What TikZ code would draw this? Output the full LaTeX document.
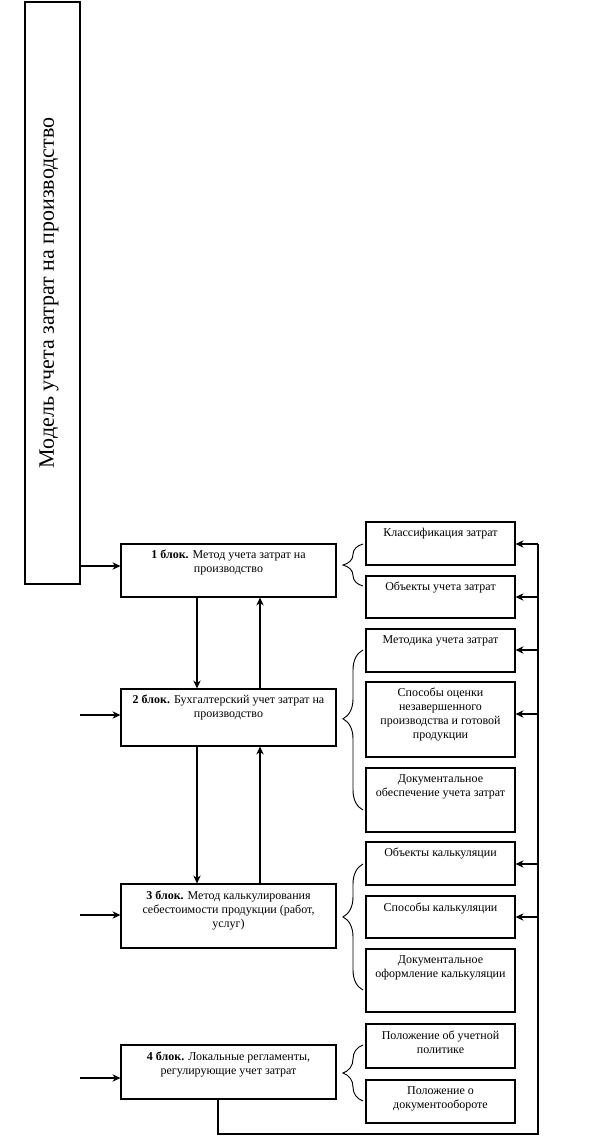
\documentclass[tikz,border=0pt]{standalone}
\usepackage{fontspec}
\setmainfont{Liberation Serif}
\usetikzlibrary{arrows.meta,decorations.pathreplacing}
\begin{document}
\begin{tikzpicture}[x=0.75pt,y=-0.75pt,
  box/.style={draw,line width=0.8pt,inner sep=0pt},
  bw/.style={box,minimum width=161.25pt},
  rw/.style={box,minimum width=111.75pt},
  txt/.style={font=\fontsize{9}{10.5}\selectfont,align=center,inner sep=0pt,anchor=north},
  arr/.style={-{Stealth[length=6pt,width=5.5pt]},line width=0.8pt},
  ln/.style={line width=0.8pt},
  brc/.style={decorate,decoration={brace,amplitude=15pt,aspect=#1},line width=0.7pt}]
\useasboundingbox (0,0) rectangle (601,1141);
% tall box
\node[box,minimum width=41.25pt,minimum height=436.5pt] (t) at (52.5,293) {};
\node[rotate=90,font=\fontsize{16.5}{18}\selectfont,inner sep=0pt] (tt) at ([xshift=-2.5pt]t.center) {Модель учета затрат на производство};
% blocks
\node[bw,minimum height=39.75pt] (b1) at (228.5,570.5) {};
\node[bw,minimum height=42.75pt] (b2) at (228.5,717.5) {};
\node[bw,minimum height=48pt] (b3) at (228.5,916) {};
\node[bw,minimum height=40.5pt] (b4) at (228.5,1072) {};
\node[txt] (b1t) at ([yshift=-5pt]b1.north) {\textbf{1 блок.} Метод учета затрат на\\производство};
\node[txt] (b2t) at ([yshift=-5pt]b2.north) {\textbf{2 блок.} Бухгалтерский учет затрат на\\производство};
\node[txt] (b3t) at ([yshift=-5pt]b3.north) {\textbf{3 блок.} Метод калькулирования\\себестоимости продукции (работ,\\услуг)};
\node[txt] (b4t) at ([yshift=-5pt]b4.north) {\textbf{4 блок.} Локальные регламенты,\\регулирующие учет затрат};
% right boxes
\node[rw,minimum height=32.25pt] (r1) at (440.5,543.5) {};
\node[rw,minimum height=31.5pt] (r2) at (440.5,597) {};
\node[rw,minimum height=32.25pt] (r3) at (440.5,650.5) {};
\node[rw,minimum height=56.25pt] (r4) at (440.5,719.5) {};
\node[rw,minimum height=48pt] (r5) at (440.5,800) {};
\node[rw,minimum height=32.25pt] (r6) at (440.5,863.5) {};
\node[rw,minimum height=31.5pt] (r7) at (440.5,917) {};
\node[rw,minimum height=47.25pt] (r8) at (440.5,980.5) {};
\node[rw,minimum height=33pt] (r9) at (440.5,1046) {};
\node[rw,minimum height=32.25pt] (r10) at (440.5,1101.5) {};
\node[txt] (r1t) at ([yshift=-5pt]r1.north) {Классификация затрат};
\node[txt] (r2t) at ([yshift=-5pt]r2.north) {Объекты учета затрат};
\node[txt] (r3t) at ([yshift=-5pt]r3.north) {Методика учета затрат};
\node[txt] (r4t) at ([yshift=-5pt]r4.north) {Способы оценки\\незавершенного\\производства и готовой\\продукции};
\node[txt] (r5t) at ([yshift=-5pt]r5.north) {Документальное\\обеспечение учета затрат};
\node[txt] (r6t) at ([yshift=-5pt]r6.north) {Объекты калькуляции};
\node[txt] (r7t) at ([yshift=-5pt]r7.north) {Способы калькуляции};
\node[txt] (r8t) at ([yshift=-5pt]r8.north) {Документальное\\оформление калькуляции};
\node[txt] (r9t) at ([yshift=-5pt]r9.north) {Положение об учетной\\политике};
\node[txt] (r10t) at ([yshift=-5pt]r10.north) {Положение о\\документообороте};
% inputs
\coordinate (i1) at (80,566);
\coordinate (i2) at (80,715);
\coordinate (i3) at (80,915);
\coordinate (i4) at (80,1078);
\draw[arr] (i1) -- (i1 -| b1.west);
\draw[arr] (i2) -- (i2 -| b2.west);
\draw[arr] (i3) -- (i3 -| b3.west);
\draw[arr] (i4) -- (i4 -| b4.west);
% between blocks
\draw[arr] ([xshift=-23.625pt]b1.south) -- ([xshift=-23.625pt]b2.north);
\draw[arr] ([xshift=23.625pt]b2.north) -- ([xshift=23.625pt]b1.south);
\draw[arr] ([xshift=-23.625pt]b2.south) -- ([xshift=-23.625pt]b3.north);
\draw[arr] ([xshift=23.625pt]b3.north) -- ([xshift=23.625pt]b2.south);
% feedback
\coordinate (c1) at (218,1134);
\coordinate (c2) at (538,1134);
\coordinate (f1) at (538,544);
\coordinate (f2) at (538,597);
\coordinate (f3) at (538,650);
\coordinate (f4) at (538,714);
\coordinate (f6) at (538,864);
\coordinate (f7) at (538,917);
\draw[ln] ([xshift=-7.875pt]b4.south) -- (c1) -- (c2) -- (f1);
\draw[arr] (f1) -- (f1 -| r1.east);
\draw[arr] (f2) -- (f2 -| r2.east);
\draw[arr] (f3) -- (f3 -| r3.east);
\draw[arr] (f4) -- (f4 -| r4.east);
\draw[arr] (f6) -- (f6 -| r6.east);
\draw[arr] (f7) -- (f7 -| r7.east);
% braces
\draw[brc=0.5] (363,586) -- (363,544);
\draw[brc=0.57] (363,810) -- (363,650);
\draw[brc=0.58] (363,990) -- (363,864);
\draw[brc=0.5] (363,1101) -- (363,1045);
\end{tikzpicture}
\end{document}
